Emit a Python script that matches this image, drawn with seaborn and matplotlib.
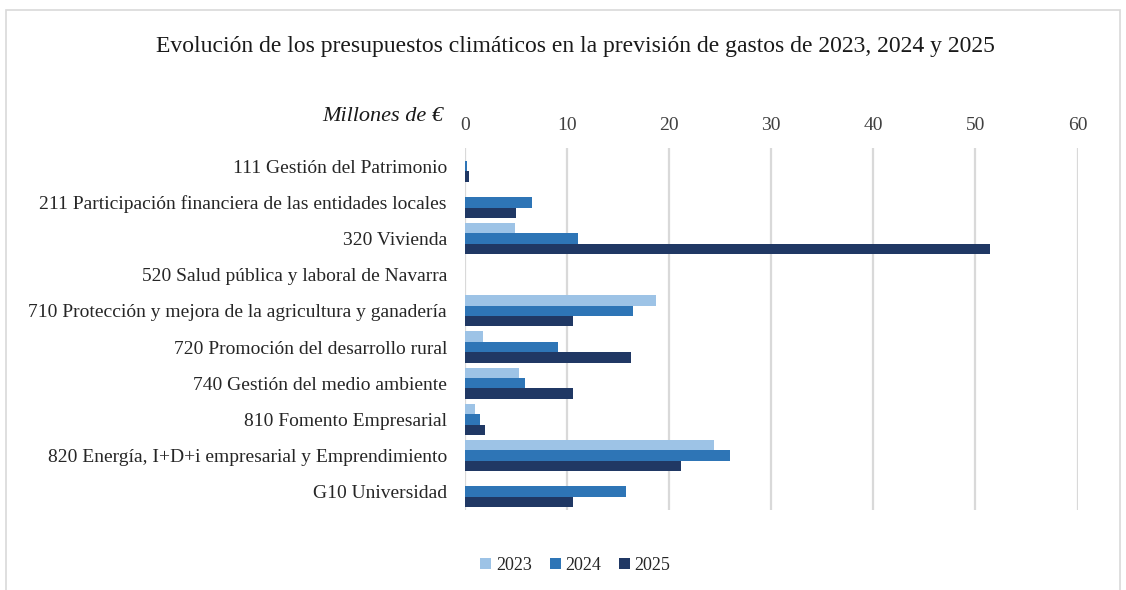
import pandas as pd
import matplotlib.pyplot as plt
import seaborn as sns
from matplotlib.patches import Rectangle

programas = [
    "111 Gestión del Patrimonio",
    "211 Participación financiera de las entidades locales",
    "320 Vivienda",
    "520 Salud pública y laboral de Navarra",
    "710 Protección y mejora de la agricultura y ganadería",
    "720 Promoción del desarrollo rural",
    "740 Gestión del medio ambiente",
    "810 Fomento Empresarial",
    "820 Energía, I+D+i empresarial y Emprendimiento",
    "G10 Universidad",
]
v2023 = [0.0, 0.0, 4.9, 0.0, 18.7, 1.8, 5.3, 1.0, 24.4, 0.0]
v2024 = [0.2, 6.6, 11.1, 0.0, 16.5, 9.1, 5.9, 1.5, 26.0, 15.8]
v2025 = [0.35, 5.0, 51.4, 0.0, 10.6, 16.3, 10.6, 2.0, 21.2, 10.6]
years = ["2023", "2024", "2025"]
colores = ["#9dc3e6", "#2e75b6", "#203864"]

rows = []
for y, vals in zip(years, [v2023, v2024, v2025]):
    for p, v in zip(programas, vals):
        rows.append({"programa": p, "año": y, "valor": v})
df = pd.DataFrame(rows)

sns.set_style("white")
plt.rcParams["font.family"] = ["Liberation Serif", "DejaVu Serif"]

fig = plt.figure(figsize=(11.26, 5.9), dpi=100)
ax = fig.add_axes([0.413, 0.136, 0.544, 0.613])

sns.barplot(data=df, y="programa", x="valor", hue="año", orient="h",
            palette=colores, order=programas, hue_order=years, saturation=1,
            width=0.86, linewidth=0, ax=ax, legend=True)

ax.set_xlim(0, 60)
ax.set_ylim(9.5, -0.5)
ax.set_xticks(range(0, 61, 10))
ax.xaxis.tick_top()
ax.tick_params(axis="x", length=0, pad=10, labelsize=14, colors="#404040")
ax.tick_params(axis="y", length=0, pad=13, labelsize=14, colors="#262626")
ax.xaxis.grid(True, color="#d9d9d9", linewidth=1.6)
ax.set_axisbelow(True)
for s in ax.spines.values():
    s.set_visible(False)
ax.set_xlabel("")
ax.set_ylabel("")

ax.legend(loc="upper center", bbox_to_anchor=(0.18, -0.085), ncol=3,
          frameon=False, fontsize=13, handlelength=0.6, handleheight=0.6,
          handletextpad=0.25, columnspacing=1.0)

fig.text(0.511, 0.922, "Evolución de los presupuestos climáticos en la previsión de gastos de 2023, 2024 y 2025",
         ha="center", va="center", fontsize=17, color="#1a1a1a")
fig.text(0.394, 0.803, "Millones de €", ha="right", va="center",
         fontsize=16, style="italic", color="#1a1a1a")

fig.patches.append(Rectangle((0.005, -0.01), 0.99, 0.993, transform=fig.transFigure,
                             fill=False, edgecolor="#d9d9d9", linewidth=1.2))

fig.savefig("out.png", dpi=100)
